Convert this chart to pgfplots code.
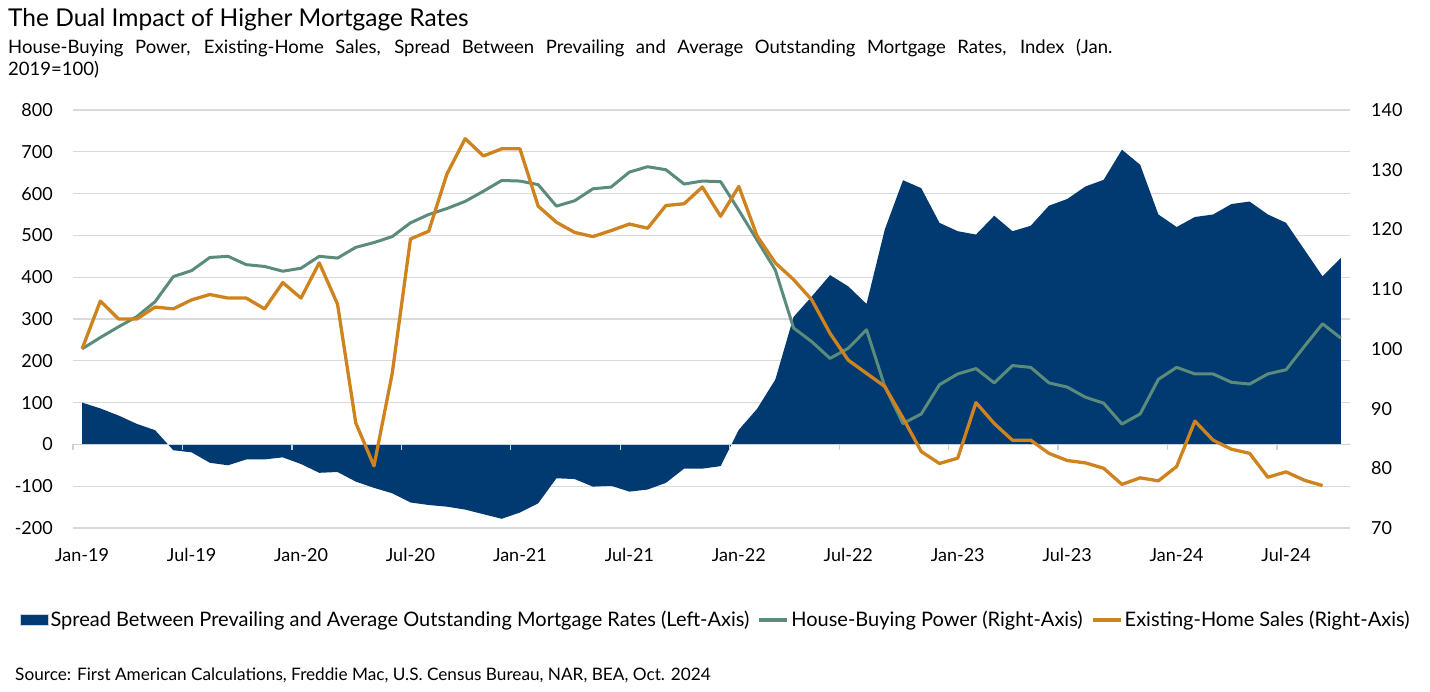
\documentclass[border=0pt]{standalone}
\usepackage{fontspec}
\setmainfont{Lato}
\usepackage{pgfplots}
\usepackage{pgfplotstable}
\pgfplotsset{compat=1.18}

\definecolor{navy}{RGB}{0,58,112}
\definecolor{hbp}{RGB}{91,140,123}
\definecolor{ehs}{RGB}{206,131,31}
\definecolor{gridgray}{RGB}{217,217,217}
\definecolor{zerocol}{RGB}{200,210,222}

\pgfplotstableread{
x s
0 100
1 86
2 69
3 49
4 34
5 -14
6 -19
7 -44
8 -50
9 -36
10 -36
11 -31
12 -47
13 -68
14 -66
15 -89
16 -104
17 -117
18 -139
19 -145
20 -149
21 -156
22 -167
23 -178
24 -163
25 -141
26 -81
27 -83
28 -101
29 -99
30 -113
31 -108
32 -92
33 -58
34 -58
35 -52
36 35
37 85
38 155
39 305
40 354
41 405
42 378
43 336
44 514
45 632
46 613
47 530
48 510
49 502
50 547
51 510
52 523
53 571
54 587
55 617
56 633
57 705
58 669
59 550
60 520
61 544
62 550
63 575
64 581
65 550
66 530
67 466
68 402
69 446
}\spreadtbl

\pgfplotstableread{
x h
0 100
1 101.9
2 103.7
3 105.4
4 107.9
5 112.1
6 113.1
7 115.3
8 115.5
9 114.1
10 113.8
11 113.0
12 113.5
13 115.5
14 115.2
15 117.0
16 117.8
17 118.8
18 121.1
19 122.5
20 123.5
21 124.7
22 126.4
23 128.2
24 128.1
25 127.5
26 123.9
27 124.8
28 126.8
29 127.1
30 129.6
31 130.5
32 130.0
33 127.6
34 128.1
35 128.0
36 123.2
37 118.2
38 113.2
39 103.5
40 101.2
41 98.4
42 100.1
43 103.2
44 93.7
45 87.5
46 89.1
47 94.0
48 95.8
49 96.7
50 94.3
51 97.2
52 96.9
53 94.3
54 93.6
55 91.9
56 90.9
57 87.4
58 89.1
59 94.9
60 96.9
61 95.8
62 95.8
63 94.4
64 94.1
65 95.8
66 96.5
67 100.4
68 104.2
69 101.8
}\hbptbl

\pgfplotstableread{
x e
0 100
1 108.0
2 105.0
3 105.0
4 107.0
5 106.7
6 108.2
7 109.1
8 108.5
9 108.5
10 106.7
11 111.1
12 108.5
13 114.4
14 107.5
15 87.6
16 80.4
17 95.9
18 118.4
19 119.7
20 129.3
21 135.2
22 132.3
23 133.5
24 133.5
25 123.9
26 121.2
27 119.5
28 118.8
29 119.8
30 120.9
31 120.2
32 124.0
33 124.3
34 127.1
35 122.2
36 127.2
37 118.9
38 114.4
39 111.6
40 108.2
41 102.6
42 98.1
43 95.9
44 93.7
45 88.4
46 82.8
47 80.8
48 81.7
49 91.0
50 87.5
51 84.7
52 84.7
53 82.5
54 81.3
55 80.9
56 80.0
57 77.3
58 78.4
59 77.9
60 80.3
61 87.9
62 84.7
63 83.2
64 82.5
65 78.5
66 79.4
67 78.0
68 77.1
}\ehstbl

\begin{document}
\begin{tikzpicture}[x=1pt,y=1pt]
\useasboundingbox (0,0) rectangle (1430,692);
\node[anchor=base west, inner sep=0pt, font=\fontsize{24.5}{28}\selectfont] at (8,665) {The Dual Impact of Higher Mortgage Rates};
\node[anchor=base west, inner sep=0pt, font=\fontsize{18.5}{21}\selectfont] at (8,638.7) {\hbox to 1104pt{\spaceskip=4pt plus 30pt\relax House-Buying Power, Existing-Home Sales, Spread Between Prevailing and Average Outstanding Mortgage Rates, Index (Jan.}};
\node[anchor=base west, inner sep=0pt, font=\fontsize{18.5}{21}\selectfont] at (8,616) {2019=100)};
\node[anchor=base west, inner sep=0pt, font=\fontsize{17.2}{19}\selectfont] at (15,11) {Source: First American Calculations, Freddie Mac, U.S. Census Bureau, NAR, BEA, Oct. 2024};

\begin{axis}[
  scale only axis, width=1277pt, height=418pt,
  at={(73pt,164pt)}, anchor=south west,
  xmin=-0.5, xmax=69.5, ymin=-200, ymax=800,
  ytick={-200,-100,...,800},
  xtick={0,6,...,66},
  xticklabels={Jan-19,Jul-19,Jan-20,Jul-20,Jan-21,Jul-21,Jan-22,Jul-22,Jan-23,Jul-23,Jan-24,Jul-24},
  axis line style={draw=none},
  major tick length=0pt,
  ymajorgrids, grid style={draw=gridgray, line width=1.3pt},
  tick label style={font=\fontsize{18}{20}\selectfont},
  /pgf/number format/assume math mode=true,
  yticklabel style={inner sep=0pt, xshift=-20pt},
  xticklabel style={inner sep=0pt, yshift=-20pt},
  clip=false,
]
\addplot[fill=navy, draw=none] table[x=x,y=s]{\spreadtbl} \closedcycle;
\draw[zerocol, line width=1.3pt] (axis cs:-0.5,0) -- (axis cs:69.5,0);
\pgfplotsinvokeforeach{-0.5,5.5,11.5,17.5,23.5,29.5,35.5,41.5,47.5,53.5,59.5,65.5}{
  \draw[zerocol, line width=1.3pt] (axis cs:#1,0) -- ++(0pt,-6pt);
}
\end{axis}

\begin{axis}[
  scale only axis, width=1277pt, height=418pt,
  at={(73pt,164pt)}, anchor=south west,
  xmin=-0.5, xmax=69.5, ymin=70, ymax=140,
  ytick={70,80,...,140},
  hide x axis,
  axis y line*=right,
  axis line style={draw=none},
  major tick length=0pt,
  tick label style={font=\fontsize{18}{20}\selectfont},
  /pgf/number format/assume math mode=true,
  every y tick label/.append style={inner sep=0pt, xshift=21pt},
  legend columns=3,
  legend cell align=left,
  legend style={at={(0.5024,-0.22)}, anchor=center, draw=none, fill=none,
    font=\fontsize{20}{23}\selectfont,
    nodes={inner sep=0pt},
    /tikz/every odd column/.append style={column sep=2pt},
    /tikz/every even column/.append style={column sep=8pt}},
]
\addlegendimage{legend image code/.code={\draw[fill=navy, draw=zerocol, line width=1pt] (0pt,-5.5pt) rectangle (28pt,5.5pt);}}
\addlegendentry{Spread Between Prevailing and Average Outstanding Mortgage Rates (Left-Axis)}
\addplot[hbp, line width=3pt, line join=round, legend image code/.code={\draw[hbp, line width=4pt] (0pt,0pt) -- (28pt,0pt);}] table[x=x,y=h]{\hbptbl};
\addlegendentry{House-Buying Power (Right-Axis)}
\addplot[ehs, line width=3.3pt, line join=round, legend image code/.code={\draw[ehs, line width=4pt] (0pt,0pt) -- (28pt,0pt);}] table[x=x,y=e]{\ehstbl};
\addlegendentry{Existing-Home Sales (Right-Axis)}
\end{axis}
\end{tikzpicture}
\end{document}
